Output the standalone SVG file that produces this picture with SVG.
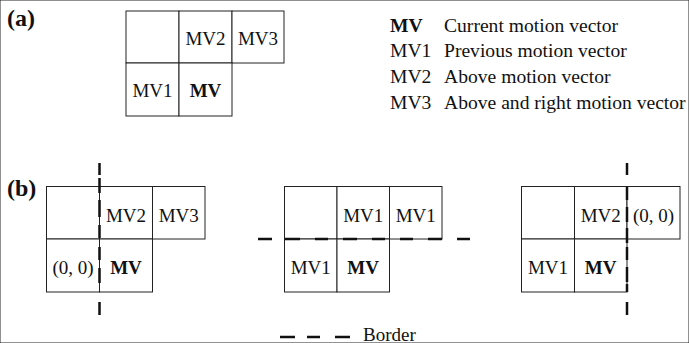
<svg xmlns="http://www.w3.org/2000/svg" width="689" height="343" viewBox="0 0 689 343" font-family="'Liberation Serif', 'DejaVu Serif', serif">
<style>
text{font-family:"Liberation Serif","DejaVu Serif",serif;font-size:19px;fill:#111}
.c{text-anchor:middle}
.b{font-weight:bold}
.lg{font-size:19.6px}
.lbl{font-weight:bold;font-size:24px}
rect{fill:#fff;stroke:#222;stroke-width:1}
.d{stroke:#111;stroke-width:2.5;fill:none}
</style>
<rect width="689" height="343" fill="#fff" stroke="none"/>
<text class="lbl" x="7" y="26">(a)</text>
<text class="lbl" x="7" y="196">(b)</text>

<g id="gridA">
  <g id="a-tl"><rect x="126" y="11" width="53" height="52"/></g>
  <g id="a-mv2"><rect x="179" y="11" width="53" height="52"/><text class="c" x="205.5" y="45">MV2</text></g>
  <g id="a-mv3"><rect x="232" y="11" width="52" height="52"/><text class="c" x="258" y="45">MV3</text></g>
  <g id="a-mv1"><rect x="126" y="63" width="53" height="53"/><text class="c" x="152.5" y="97">MV1</text></g>
  <g id="a-mv"><rect x="179" y="63" width="53" height="53"/><text class="c b" x="205.5" y="97">MV</text></g>
</g>

<g id="legend">
  <text class="b lg" x="390" y="31.5">MV</text><text class="lg" x="444" y="31.5">Current motion vector</text>
  <text class="lg" x="390" y="57">MV1</text><text class="lg" x="444" y="57">Previous motion vector</text>
  <text class="lg" x="390" y="83">MV2</text><text class="lg" x="444" y="83">Above motion vector</text>
  <text class="lg" x="390" y="108.5">MV3</text><text class="lg" x="444" y="108.5">Above and right motion vector</text>
</g>

<g id="gridB1">
  <g id="b1-tl"><rect x="46.5" y="186.5" width="53" height="52.5"/></g>
  <g id="b1-mv2"><rect x="99.5" y="186.5" width="53" height="52.5"/><text class="c" x="126" y="222">MV2</text></g>
  <g id="b1-mv3"><rect x="152.5" y="186.5" width="52.5" height="52.5"/><text class="c" x="178.7" y="222">MV3</text></g>
  <g id="b1-zero"><rect x="46.5" y="239" width="53" height="53"/><text class="c" x="73" y="273.5">(0, 0)</text></g>
  <g id="b1-mv"><rect x="99.5" y="239" width="53" height="53"/><text class="c b" x="126" y="273.5">MV</text></g>
</g>

<g id="gridB2">
  <g id="b2-tl"><rect x="284.5" y="186.5" width="52.5" height="52.5"/></g>
  <g id="b2-mv1a"><rect x="337" y="186.5" width="52.5" height="52.5"/><text class="c" x="363.2" y="222">MV1</text></g>
  <g id="b2-mv1b"><rect x="389.5" y="186.5" width="52.5" height="52.5"/><text class="c" x="415.7" y="222">MV1</text></g>
  <g id="b2-mv1"><rect x="284.5" y="239" width="52.5" height="53"/><text class="c" x="310.7" y="273.5">MV1</text></g>
  <g id="b2-mv"><rect x="337" y="239" width="52.5" height="53"/><text class="c b" x="363.2" y="273.5">MV</text></g>
</g>

<g id="gridB3">
  <g id="b3-tl"><rect x="521.5" y="186.5" width="53" height="52.5"/></g>
  <g id="b3-mv2"><rect x="574.5" y="186.5" width="52.5" height="52.5"/><text class="c" x="600.7" y="222">MV2</text></g>
  <g id="b3-zero"><rect x="627" y="186.5" width="53" height="52.5"/><text class="c" x="653.5" y="222">(0, 0)</text></g>
  <g id="b3-mv1"><rect x="521.5" y="239" width="53" height="53"/><text class="c" x="548" y="273.5">MV1</text></g>
  <g id="b3-mv"><rect x="574.5" y="239" width="52.5" height="53"/><text class="c b" x="600.7" y="273.5">MV</text></g>
</g>

<g id="borders">
  <path class="d" d="M99.5 163V175M99.5 178V193M99.5 200V217M99.5 225V238M99.5 247V260M99.5 268V283M99.5 302V315"/>
  <path class="d" d="M258 239H272M285 239H300M315 239H328M343 239H357M372 239H385M400 239H413M428 239H442M457 239H470"/>
  <path class="d" d="M627 163V175M627 187V200M627 207V222M627 228V243M627 247V260M627 267V282M627 284V292M627 302V315"/>
</g>

<g id="legend-border">
  <path class="d" d="M280 337H295M307 337H320M335 337H350"/>
  <text x="363" y="340.5">Border</text>
</g>
</svg>
